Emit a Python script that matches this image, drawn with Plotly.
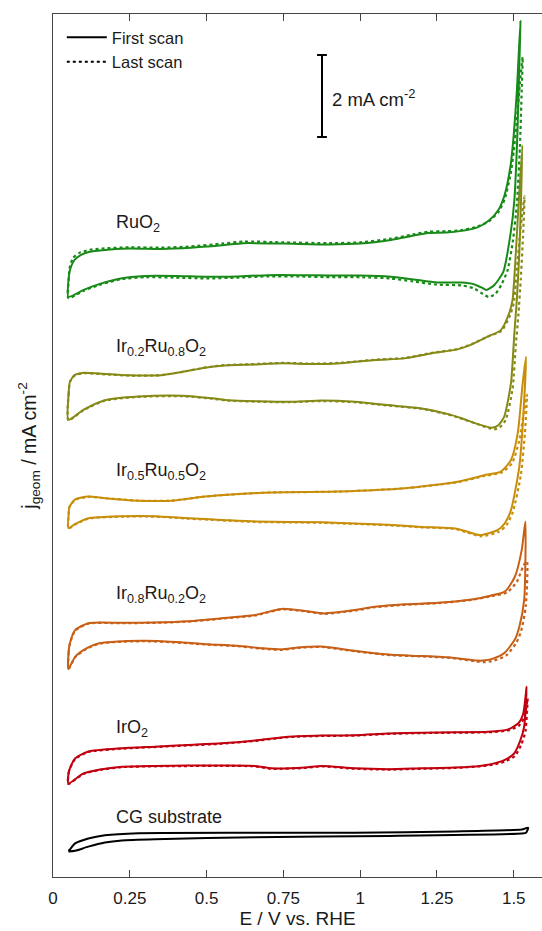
import plotly.graph_objects as go

# ---------------- data (E / V vs RHE, j / mA cm^-2, stacked with offsets) -------------
RUO2_FIRST_E = [0.050, 0.051, 0.055, 0.070, 0.090, 0.120, 0.160, 0.250, 0.350, 0.450, 0.550, 0.620, 0.750,
                0.900, 1.000, 1.100, 1.170, 1.220, 1.280, 1.330, 1.380, 1.420, 1.450, 1.470, 1.490, 1.500,
                1.510, 1.517, 1.522,
                1.518, 1.512, 1.502, 1.490, 1.466, 1.437, 1.412, 1.400, 1.370, 1.330, 1.250, 1.170, 1.100,
                1.000, 0.900, 0.800, 0.700, 0.600, 0.500, 0.400, 0.300, 0.220, 0.150, 0.100, 0.050]
RUO2_FIRST_J = [14.15, 14.60, 14.80, 15.05, 15.17, 15.25, 15.29, 15.33, 15.32, 15.35, 15.41, 15.46, 15.45,
                15.43, 15.45, 15.54, 15.64, 15.71, 15.72, 15.76, 15.84, 16.02, 16.27, 16.63, 17.37, 18.10,
                19.15, 20.20, 20.88,
                19.76, 18.15, 16.51, 15.71, 14.76, 14.44, 14.32, 14.36, 14.46, 14.50, 14.50, 14.58, 14.64,
                14.67, 14.67, 14.68, 14.68, 14.65, 14.64, 14.66, 14.66, 14.60, 14.46, 14.32, 14.15]
RUO2_LAST_E = [0.050, 0.051, 0.054, 0.065, 0.085, 0.120, 0.160, 0.250, 0.350, 0.450, 0.550, 0.620, 0.750,
               0.900, 1.000, 1.100, 1.170, 1.220, 1.280, 1.330, 1.380, 1.420, 1.450, 1.470, 1.490, 1.500,
               1.510, 1.520, 1.529,
               1.526, 1.520, 1.510, 1.497, 1.480, 1.460, 1.440, 1.418, 1.400, 1.370, 1.330, 1.250, 1.170,
               1.100, 1.000, 0.900, 0.800, 0.700, 0.600, 0.500, 0.400, 0.300, 0.220, 0.150, 0.100, 0.050]
RUO2_LAST_J = [14.12, 14.55, 14.85, 15.10, 15.22, 15.30, 15.33, 15.36, 15.35, 15.38, 15.45, 15.50, 15.48,
               15.46, 15.48, 15.57, 15.67, 15.74, 15.75, 15.78, 15.86, 16.00, 16.22, 16.52, 17.15, 17.70,
               18.45, 19.35, 20.00,
               19.20, 17.80, 16.40, 15.50, 14.80, 14.45, 14.22, 14.15, 14.22, 14.36, 14.43, 14.45, 14.53,
               14.60, 14.63, 14.63, 14.65, 14.65, 14.62, 14.60, 14.62, 14.63, 14.58, 14.44, 14.30, 14.12]

IR02_FIRST_E = [0.050, 0.051, 0.055, 0.070, 0.100, 0.150, 0.250, 0.350, 0.420, 0.500, 0.550, 0.650, 0.750,
                0.850, 0.950, 1.050, 1.144, 1.230, 1.317, 1.360, 1.415, 1.458, 1.485, 1.496, 1.505, 1.515,
                1.528,
                1.524, 1.518, 1.510, 1.502, 1.491, 1.469, 1.450, 1.428, 1.374, 1.330, 1.287, 1.200, 1.090,
                0.983, 0.875, 0.766, 0.571, 0.527, 0.419, 0.278, 0.169, 0.100, 0.050]
IR02_FIRST_J = [11.15, 11.80, 12.08, 12.24, 12.30, 12.28, 12.24, 12.24, 12.32, 12.43, 12.47, 12.50, 12.53,
                12.51, 12.54, 12.61, 12.65, 12.77, 12.87, 12.98, 13.18, 13.34, 13.75, 14.07, 15.00, 16.30,
                17.85,
                16.60, 15.20, 14.07, 13.27, 12.05, 11.23, 11.02, 10.96, 11.07, 11.19, 11.29, 11.43, 11.51,
                11.59, 11.62, 11.59, 11.63, 11.67, 11.74, 11.72, 11.63, 11.40, 11.15]
IR02_LAST_E = [0.050, 0.051, 0.055, 0.070, 0.100, 0.150, 0.250, 0.350, 0.420, 0.500, 0.550, 0.650, 0.750,
               0.850, 0.950, 1.050, 1.144, 1.230, 1.317, 1.360, 1.415, 1.460, 1.488, 1.500, 1.510, 1.522,
               1.535,
               1.530, 1.523, 1.515, 1.507, 1.496, 1.474, 1.455, 1.436, 1.380, 1.330, 1.287, 1.200, 1.090,
               0.983, 0.875, 0.766, 0.571, 0.527, 0.419, 0.278, 0.169, 0.100, 0.050]
IR02_LAST_J = [11.14, 11.78, 12.07, 12.23, 12.29, 12.27, 12.23, 12.24, 12.32, 12.43, 12.48, 12.51, 12.54,
               12.52, 12.55, 12.62, 12.66, 12.78, 12.88, 12.99, 13.18, 13.32, 13.70, 14.00, 14.80, 15.80,
               16.60,
               15.60, 14.60, 13.70, 13.00, 11.90, 11.15, 10.97, 10.92, 11.05, 11.18, 11.28, 11.42, 11.50,
               11.58, 11.61, 11.58, 11.62, 11.66, 11.73, 11.71, 11.62, 11.39, 11.14]

IR05_FIRST_E = [0.050, 0.051, 0.053, 0.072, 0.115, 0.169, 0.278, 0.386, 0.495, 0.603, 0.712, 0.927, 1.144,
                1.317, 1.404, 1.458, 1.491, 1.513, 1.529, 1.540,
                1.531, 1.518, 1.491, 1.470, 1.447, 1.389, 1.350, 1.309, 1.200, 1.090, 0.875, 0.658, 0.549,
                0.440, 0.332, 0.224, 0.115, 0.070, 0.050]
IR05_FIRST_J = [8.51, 8.85, 9.02, 9.21, 9.28, 9.24, 9.18, 9.18, 9.28, 9.34, 9.38, 9.40, 9.48,
                9.64, 9.80, 9.89, 10.17, 10.82, 12.04, 12.69,
                11.23, 10.00, 8.95, 8.62, 8.46, 8.34, 8.42, 8.50, 8.54, 8.59, 8.65, 8.67, 8.71,
                8.75, 8.80, 8.80, 8.75, 8.60, 8.51]
IR05_LAST_E = [0.050, 0.051, 0.053, 0.072, 0.115, 0.169, 0.278, 0.386, 0.495, 0.603, 0.712, 0.927, 1.144,
               1.317, 1.404, 1.462, 1.495, 1.518, 1.534, 1.543,
               1.536, 1.523, 1.497, 1.476, 1.452, 1.393, 1.350, 1.309, 1.200, 1.090, 0.875, 0.658, 0.549,
               0.440, 0.332, 0.224, 0.115, 0.070, 0.050]
IR05_LAST_J = [8.50, 8.84, 9.01, 9.20, 9.27, 9.24, 9.18, 9.18, 9.28, 9.34, 9.38, 9.40, 9.48,
               9.63, 9.78, 9.87, 10.10, 10.65, 11.40, 11.76,
               10.80, 9.80, 8.90, 8.58, 8.42, 8.31, 8.40, 8.49, 8.53, 8.58, 8.64, 8.66, 8.70,
               8.74, 8.79, 8.79, 8.74, 8.59, 8.50]

IR08_FIRST_E = [0.050, 0.051, 0.055, 0.072, 0.115, 0.224, 0.332, 0.440, 0.549, 0.658, 0.744, 0.820, 0.883,
                0.983, 1.048, 1.146, 1.254, 1.363, 1.417, 1.471, 1.504, 1.526, 1.538,
                1.534, 1.518, 1.504, 1.469, 1.430, 1.400, 1.382, 1.300, 1.200, 1.100, 1.000, 0.950, 0.875,
                0.800, 0.744, 0.680, 0.600, 0.500, 0.400, 0.300, 0.200, 0.150, 0.110, 0.072, 0.050]
IR08_FIRST_J = [5.07, 5.50, 5.70, 6.02, 6.19, 6.20, 6.21, 6.24, 6.31, 6.39, 6.54, 6.49, 6.43,
                6.51, 6.59, 6.65, 6.69, 6.77, 6.85, 6.96, 7.33, 7.98, 8.67,
                6.76, 6.10, 5.80, 5.46, 5.32, 5.28, 5.28, 5.35, 5.39, 5.42, 5.50, 5.55, 5.62,
                5.60, 5.55, 5.58, 5.64, 5.68, 5.73, 5.76, 5.74, 5.70, 5.58, 5.37, 5.07]
IR08_LAST_E = [0.050, 0.051, 0.055, 0.072, 0.115, 0.224, 0.332, 0.440, 0.549, 0.658, 0.744, 0.820, 0.883,
               0.983, 1.048, 1.146, 1.254, 1.363, 1.420, 1.478, 1.510, 1.532, 1.543,
               1.539, 1.524, 1.509, 1.475, 1.436, 1.405, 1.385, 1.300, 1.200, 1.100, 1.000, 0.950, 0.875,
               0.800, 0.744, 0.680, 0.600, 0.500, 0.400, 0.300, 0.200, 0.150, 0.110, 0.072, 0.050]
IR08_LAST_J = [5.06, 5.48, 5.69, 6.01, 6.18, 6.19, 6.20, 6.23, 6.30, 6.38, 6.53, 6.48, 6.42,
               6.50, 6.58, 6.64, 6.68, 6.76, 6.84, 6.94, 7.20, 7.60, 7.70,
               6.60, 6.00, 5.72, 5.40, 5.28, 5.24, 5.25, 5.34, 5.38, 5.41, 5.49, 5.54, 5.61,
               5.59, 5.54, 5.57, 5.63, 5.67, 5.72, 5.75, 5.73, 5.69, 5.57, 5.36, 5.06]

IRO2_FIRST_E = [0.050, 0.051, 0.055, 0.072, 0.115, 0.224, 0.332, 0.440, 0.549, 0.658, 0.766, 0.875, 0.983,
                1.092, 1.200, 1.309, 1.417, 1.482, 1.515, 1.531, 1.542,
                1.534, 1.520, 1.500, 1.469, 1.430, 1.390, 1.309, 1.200, 1.092, 0.983, 0.875, 0.820, 0.712,
                0.658, 0.549, 0.332, 0.224, 0.153, 0.098, 0.050]
IRO2_FIRST_J = [2.28, 2.55, 2.65, 2.89, 3.06, 3.14, 3.18, 3.22, 3.26, 3.33, 3.42, 3.45, 3.46,
                3.50, 3.52, 3.53, 3.54, 3.60, 3.75, 3.99, 4.64,
                3.67, 3.30, 3.00, 2.85, 2.76, 2.71, 2.67, 2.65, 2.63, 2.65, 2.71, 2.67, 2.65,
                2.71, 2.72, 2.71, 2.69, 2.62, 2.52, 2.28]
IRO2_LAST_E = [0.050, 0.051, 0.055, 0.072, 0.115, 0.224, 0.332, 0.440, 0.549, 0.658, 0.766, 0.875, 0.983,
               1.092, 1.200, 1.309, 1.417, 1.485, 1.518, 1.535, 1.545,
               1.538, 1.524, 1.504, 1.472, 1.432, 1.390, 1.309, 1.200, 1.092, 0.983, 0.875, 0.820, 0.712,
               0.658, 0.549, 0.332, 0.224, 0.153, 0.098, 0.050]
IRO2_LAST_J = [2.27, 2.54, 2.64, 2.88, 3.05, 3.13, 3.17, 3.21, 3.25, 3.32, 3.41, 3.44, 3.45,
               3.49, 3.51, 3.52, 3.53, 3.58, 3.70, 3.90, 4.35,
               3.55, 3.22, 2.95, 2.82, 2.74, 2.70, 2.66, 2.64, 2.62, 2.64, 2.70, 2.66, 2.64,
               2.70, 2.71, 2.70, 2.68, 2.61, 2.51, 2.27]

CG_E = [0.050, 0.055, 0.072, 0.115, 0.169, 0.278, 0.658, 0.983, 1.309, 1.526, 1.547,
        1.540, 1.526, 1.092, 0.658, 0.332, 0.224, 0.169, 0.115, 0.072, 0.050]
CG_J = [0.64, 0.67, 0.82, 0.94, 1.02, 1.07, 1.08, 1.08, 1.11, 1.16, 1.20,
        1.08, 1.06, 1.00, 0.97, 0.92, 0.89, 0.84, 0.74, 0.64, 0.62]

SAMPLE_NAMES = ["RuO<sub>2</sub>", "Ir<sub>0.2</sub>Ru<sub>0.8</sub>O<sub>2</sub>",
                "Ir<sub>0.5</sub>Ru<sub>0.5</sub>O<sub>2</sub>", "Ir<sub>0.8</sub>Ru<sub>0.2</sub>O<sub>2</sub>",
                "IrO<sub>2</sub>", "CG substrate"]
SAMPLE_COLORS = ["#178a17", "#858a17", "#c88e0a", "#c85f17", "#c0000f", "#000000"]
LABEL_Y = [15.95, 12.92, 9.90, 6.88, 3.62, 1.47]

XTICKS = [0, 0.25, 0.5, 0.75, 1, 1.25, 1.5]
XTICK_TEXT = ["0", "0.25", "0.5", "0.75", "1", "1.25", "1.5"]

SCALE_E = [0.8757, 0.8757]
SCALE_J = [18.05, 20.05]

# ---------------- figure -------------
FONT = "Liberation Sans, Arial, sans-serif"
TXT = "#1a1a1a"
fig = go.Figure()

curves = [
    (RUO2_FIRST_E, RUO2_FIRST_J, RUO2_LAST_E, RUO2_LAST_J),
    (IR02_FIRST_E, IR02_FIRST_J, IR02_LAST_E, IR02_LAST_J),
    (IR05_FIRST_E, IR05_FIRST_J, IR05_LAST_E, IR05_LAST_J),
    (IR08_FIRST_E, IR08_FIRST_J, IR08_LAST_E, IR08_LAST_J),
    (IRO2_FIRST_E, IRO2_FIRST_J, IRO2_LAST_E, IRO2_LAST_J),
]

fig.add_trace(go.Scatter(x=CG_E, y=CG_J, mode="lines", showlegend=False,
                         line=dict(color=SAMPLE_COLORS[5], width=2, shape="spline", smoothing=0.6)))
for i in range(len(curves) - 1, -1, -1):
    fe, fj, le, lj = curves[i]
    col = SAMPLE_COLORS[i]
    fig.add_trace(go.Scatter(x=le, y=lj, mode="lines", showlegend=False,
                             line=dict(color=col, width=2.2, dash="dot", shape="spline", smoothing=0.6)))
    fig.add_trace(go.Scatter(x=fe, y=fj, mode="lines", showlegend=False,
                             line=dict(color=col, width=2, shape="spline", smoothing=0.6)))

# legend entries
fig.add_trace(go.Scatter(x=[None], y=[None], mode="lines", name="First scan",
                         line=dict(color="black", width=2)))
fig.add_trace(go.Scatter(x=[None], y=[None], mode="lines", name="Last scan",
                         line=dict(color="black", width=2, dash="dot")))

# scale bar
fig.add_trace(go.Scatter(x=SCALE_E, y=SCALE_J, mode="lines+markers", showlegend=False,
                         line=dict(color="black", width=2),
                         marker=dict(symbol="line-ew", size=7, line=dict(color="black", width=2))))

annotations = []
for name, ly in zip(SAMPLE_NAMES, LABEL_Y):
    annotations.append(dict(x=0.2, y=ly, xref="x", yref="y", text=name, showarrow=False,
                            xanchor="left", yanchor="middle",
                            font=dict(family=FONT, size=18, color=TXT)))
annotations.append(dict(x=0.903, y=19.0, xref="x", yref="y", text="2 mA cm<sup>-2</sup>",
                        showarrow=False, xanchor="left", yanchor="middle",
                        font=dict(family=FONT, size=18.5, color=TXT)))

fig.update_layout(
    width=542, height=931,
    margin=dict(l=53, r=0, t=14, b=54),
    paper_bgcolor="white", plot_bgcolor="white",
    font=dict(family=FONT, size=16, color=TXT),
    showlegend=True,
    legend=dict(x=0.018, y=0.993, xanchor="left", yanchor="top", bgcolor="rgba(0,0,0,0)",
                font=dict(family=FONT, size=16.5, color=TXT), tracegroupgap=0,
                itemwidth=40),
    annotations=annotations,
    xaxis=dict(range=[0, 1.592], tickvals=XTICKS, ticktext=XTICK_TEXT, ticks="inside", ticklen=7,
               tickwidth=1, tickcolor="#444444", showline=True, linecolor="#444444", linewidth=1.3,
               mirror="ticks", showgrid=False, zeroline=False, ticklabelstandoff=5,
               tickfont=dict(family=FONT, size=17, color=TXT),
               title=dict(text="E / V vs. RHE", standoff=4,
                          font=dict(family=FONT, size=19, color=TXT))),
    yaxis=dict(range=[0, 21.05], showticklabels=False, ticks="", showline=True,
               linecolor="#444444", linewidth=1.3, mirror=False, showgrid=False, zeroline=False,
               title=dict(text="j<sub>geom</sub> / mA cm<sup>-2</sup>", standoff=10,
                          font=dict(family=FONT, size=19.5, color=TXT))),
)

fig.write_html("out.html")
